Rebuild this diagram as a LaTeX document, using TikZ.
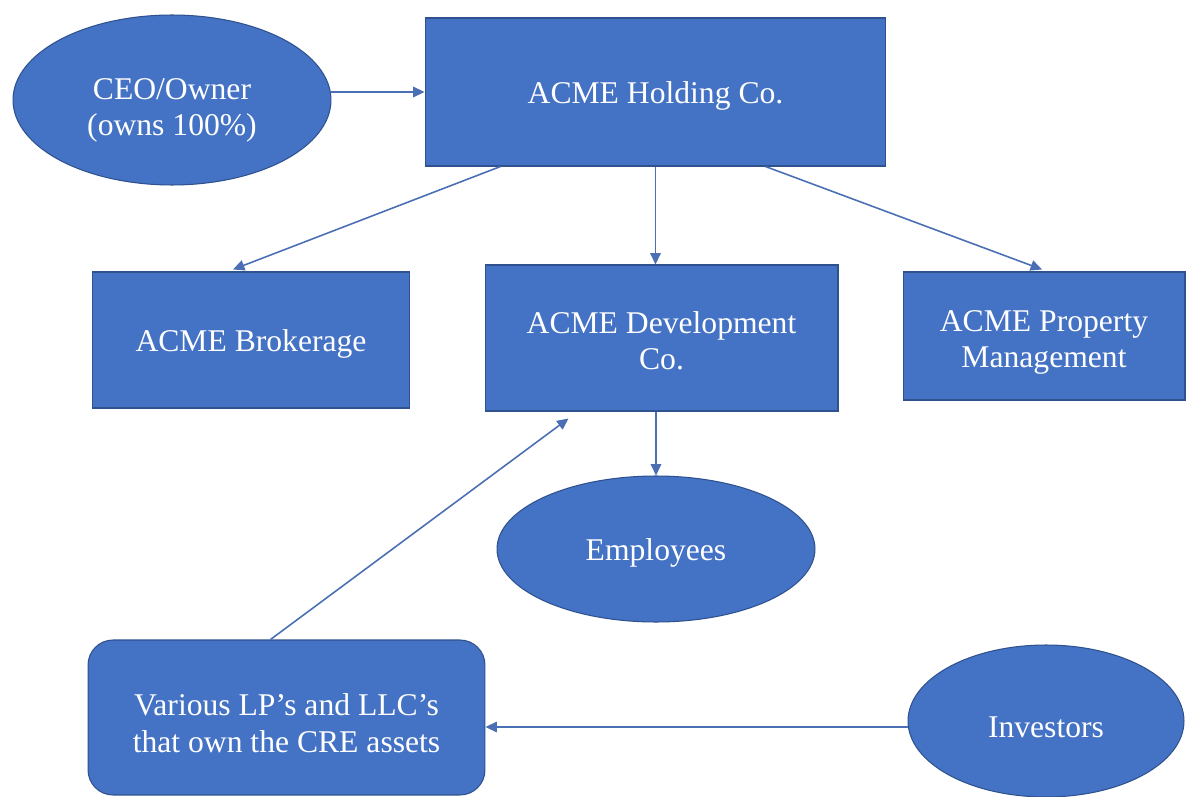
\documentclass[tikz,border=0pt]{standalone}
\usepackage{fontspec}
\setmainfont{Liberation Serif}
\usetikzlibrary{arrows.meta,calc,shapes.geometric}
\definecolor{boxblue}{HTML}{4472C4}
\definecolor{edgeblue}{HTML}{2F528F}
\definecolor{linkblue}{HTML}{4A6FB5}
\newcommand\lowtext[2]{\raisebox{-#1}[\height][\depth]{\begin{tabular}{@{}c@{}}#2\end{tabular}}}
\begin{document}
\begin{tikzpicture}[x=0.02cm,y=-0.02cm,
  every node/.style={font=\fontsize{18}{20.8}\selectfont, text=white, align=center, inner sep=0pt},
  boxnode/.style={rectangle, fill=boxblue, draw=edgeblue, line width=0.6pt},
  ovalnode/.style={ellipse, fill=boxblue, draw=edgeblue, line width=0.6pt},
  arr/.style={draw=linkblue, line width=0.9pt, -{Triangle[length=6.5pt,width=6pt]}}]
\path[use as bounding box, fill=white] (0,0) rectangle (1187,797);

\node[ovalnode, minimum width=6.36cm, minimum height=3.4cm] (ceo) at (172,100) {\lowtext{5.7pt}{CEO/Owner\\(owns 100\%)}};
\node[boxnode, minimum width=9.22cm, minimum height=2.96cm] (hold) at (655.5,92) {\lowtext{2.3pt}{ACME Holding Co.}};
\node[boxnode, minimum width=6.36cm, minimum height=2.72cm] (brok) at (251,340) {\lowtext{2.3pt}{ACME Brokerage}};
\node[boxnode, minimum width=7.06cm, minimum height=2.92cm] (dev) at (661.5,338) {\lowtext{3.4pt}{ACME Development\\Co.}};
\node[boxnode, minimum width=5.64cm, minimum height=2.56cm] (prop) at (1044,336) {\lowtext{3.4pt}{ACME Property\\Management}};
\node[ovalnode, minimum width=6.36cm, minimum height=2.92cm] (emp) at (656,549) {\lowtext{2.3pt}{Employees}};
\node[boxnode, rounded corners=0.5cm, minimum width=7.94cm, minimum height=3.1cm] (lp) at (286.5,717.5) {\lowtext{5.1pt}{Various LP’s and LLC’s\\that own the CRE assets}};
\node[ovalnode, minimum width=5.52cm, minimum height=3.04cm] (inv) at (1046,721) {\lowtext{5.1pt}{Investors}};

\draw[arr] (hold.west -| ceo.east) -- (hold.west);
\draw[arr] ($(hold.south)+(-155,0)$) -- ($(brok.north)+(-18,-2)$);
\draw[arr] (hold.south) -- (hold.south |- dev.north);
\draw[arr] ($(hold.south)+(110,0)$) -- ($(prop.north)+(-2,-2)$);
\draw[arr] (emp.north |- dev.south) -- (emp.north);
\draw[arr] ($(lp.north)+(-16,0)$) -- ($(dev.south)+(-93,7)$);
\coordinate (invp) at ($(inv.west)+(0,6)$);
\draw[arr] (invp) -- (invp -| lp.east);
\end{tikzpicture}
\end{document}
